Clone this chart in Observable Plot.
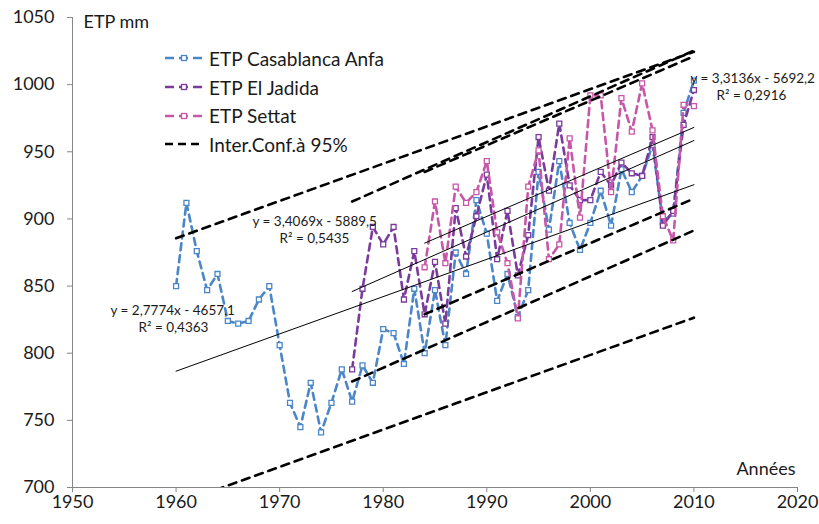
<!DOCTYPE html>
<html><head><meta charset="utf-8">
<script src="https://cdn.jsdelivr.net/npm/d3@7"></script>
<script src="https://cdn.jsdelivr.net/npm/@observablehq/plot@0.6"></script>
<style>
body{margin:0;background:#fff;}
#wrap{position:relative;width:819px;height:524px;font-family:Lato,sans-serif;}
#wrap svg{display:block;}
.legend{position:absolute;left:165px;top:44px;font-size:19px;color:#1a1a1a;font-family:Lato,sans-serif;}
.legend .row{display:flex;align-items:center;height:28.7px;white-space:nowrap;}
.legend .row span{margin-left:6px;}
</style></head><body><div id="wrap"></div>
<script>
// ---- data ----
const casaStart = 1960;
const casaValues = [850,912,876,847,859,824,822,824,840,850,
  806,763,745,778,741,763,788,764,791,778,
  818,815,792,848,800,847,806,875,859,914,
  889,839,859,827,847,935,892,943,897,877,
  897,921,895,937,920,932,955,898,904,979,
  1003];
const jadidaStart = 1977;
const jadidaValues = [788,848,894,
  881,894,840,876,829,868,822,908,872,902,
  933,870,906,858,888,961,921,971,925,914,
  914,935,925,942,934,932,961,895,906,970,
  996];
const settatStart = 1984;
const settatValues = [864,913,867,924,912,920,
  943,890,867,826,924,951,870,881,960,901,
  992,992,920,990,965,1001,966,902,884,985,
  984];
const seriesNames = ["ETP Casablanca Anfa", "ETP El Jadida", "ETP Settat"];
const seriesColors = ["#4a86c8", "#7a3b9c", "#c757a8"];
const ciName = "Inter.Conf.à 95%";
const trendSlopes = [2.7774, 3.4069, 3.3136];
const trendIntercepts = [-4657.1, -5889.5, -5692.2];
const trendEquations = ["y = 2,7774x - 4657,1", "y = 3,4069x - 5889,5", "y = 3,3136x - 5692,2"];
const trendR2 = ["R² = 0,4363", "R² = 0,5435", "R² = 0,2916"];
const ciHalfWidth = [99, 67, 53];
const endYear = 2010;
const xTicks = [1950, 1960, 1970, 1980, 1990, 2000, 2010, 2020];
const yTicks = [700, 750, 800, 850, 900, 950, 1000, 1050];
const yLabel = "ETP mm";
const xLabel = "Années";

// ---- build tables ----
const starts = [casaStart, jadidaStart, settatStart];
const valueLists = [casaValues, jadidaValues, settatValues];
const seriesRows = valueLists.map((vals, i) =>
  vals.map((v, k) => ({year: starts[i] + k, etp: v, series: seriesNames[i]})));
const trendRows = [], ciRows = [];
starts.forEach((s, i) => {
  [s, endYear].forEach(yr => {
    const t = trendSlopes[i] * yr + trendIntercepts[i];
    trendRows.push({year: yr, v: t, k: "t" + i});
    ciRows.push({year: yr, v: t + ciHalfWidth[i], k: "u" + i});
    ciRows.push({year: yr, v: t - ciHalfWidth[i], k: "l" + i});
  });
});

const axisGrey = "#868686";
const marks = [
  Plot.ruleX([xTicks[0]], {stroke: axisGrey}),
  Plot.ruleY([yTicks[0]], {stroke: axisGrey}),
  Plot.axisX({ticks: xTicks, tickFormat: d => String(d), tickSize: 5, tickPadding: 3, stroke: axisGrey, fill: "#1a1a1a", label: null}),
  Plot.axisY({ticks: yTicks, tickFormat: d => String(d), tickSize: 5, tickPadding: 13, stroke: axisGrey, fill: "#1a1a1a", label: null})
];
seriesRows.forEach((rows, i) => {
  marks.push(Plot.line(rows, {x: "year", y: "etp", stroke: seriesColors[i], strokeWidth: 2.6, strokeDasharray: "7,5"}));
  marks.push(Plot.dot(rows, {x: "year", y: "etp", symbol: "square", r: 2.8, fill: "white", stroke: seriesColors[i], strokeWidth: 1.3}));
});
marks.push(Plot.line(trendRows, {x: "year", y: "v", z: "k", stroke: "#000", strokeWidth: 1}));
marks.push(Plot.line(ciRows, {x: "year", y: "v", z: "k", stroke: "#000", strokeWidth: 2.6, strokeDasharray: "8,6", clip: true}));

// text labels
const eqPos = [[38, 293, 66, 310], [180, 204, 207, 221], [618, 61, 644, 78]];
trendEquations.forEach((eq, i) => {
  marks.push(Plot.text([eq], {frameAnchor: "top-left", dx: eqPos[i][0], dy: eqPos[i][1], textAnchor: "start", lineAnchor: "middle", fontSize: 13.5, fill: "#1a1a1a"}));
  marks.push(Plot.text([trendR2[i]], {frameAnchor: "top-left", dx: eqPos[i][2], dy: eqPos[i][3], textAnchor: "start", lineAnchor: "middle", fontSize: 13.5, fill: "#1a1a1a"}));
});
marks.push(Plot.text([yLabel], {frameAnchor: "top-left", dx: 11, dy: 5, textAnchor: "start", lineAnchor: "middle", fontSize: 18, fill: "#1a1a1a"}));
marks.push(Plot.text([xLabel], {frameAnchor: "bottom-right", dx: -2, dy: -18, textAnchor: "end", lineAnchor: "middle", fontSize: 18, fill: "#1a1a1a"}));

const chart = Plot.plot({
  width: 819, height: 524,
  marginLeft: 72, marginRight: 22, marginTop: 17, marginBottom: 37,
  x: {domain: [1950, 2020]},
  y: {domain: [700, 1050]},
  style: {fontFamily: "Lato, sans-serif", fontSize: "18px", color: "#1a1a1a", background: "#fff", overflow: "visible"},
  marks
});
const wrap = document.getElementById("wrap");
wrap.appendChild(chart);

// legend overlay
const legend = document.createElement("div");
legend.className = "legend";
const entries = seriesNames.map((n, i) => ({name: n, color: seriesColors[i], marker: true}))
  .concat([{name: ciName, color: "#000", marker: false}]);
entries.forEach(e => {
  const row = document.createElement("div");
  row.className = "row";
  const ns = "http://www.w3.org/2000/svg";
  const s = document.createElementNS(ns, "svg");
  s.setAttribute("width", 38); s.setAttribute("height", 10);
  const l = document.createElementNS(ns, "line");
  l.setAttribute("x1", 0); l.setAttribute("x2", 38); l.setAttribute("y1", 5); l.setAttribute("y2", 5);
  l.setAttribute("stroke", e.color); l.setAttribute("stroke-width", 2.6);
  l.setAttribute("stroke-dasharray", e.marker ? "9,5" : "8,5");
  s.appendChild(l);
  if (e.marker) {
    const r = document.createElementNS(ns, "rect");
    r.setAttribute("x", 16.5); r.setAttribute("y", 2.5); r.setAttribute("width", 5); r.setAttribute("height", 5);
    r.setAttribute("fill", "white"); r.setAttribute("stroke", e.color); r.setAttribute("stroke-width", 1.3);
    s.appendChild(r);
  }
  row.appendChild(s);
  const t = document.createElement("span");
  t.textContent = e.name;
  row.appendChild(t);
  legend.appendChild(row);
});
wrap.appendChild(legend);
</script>
</body></html>
